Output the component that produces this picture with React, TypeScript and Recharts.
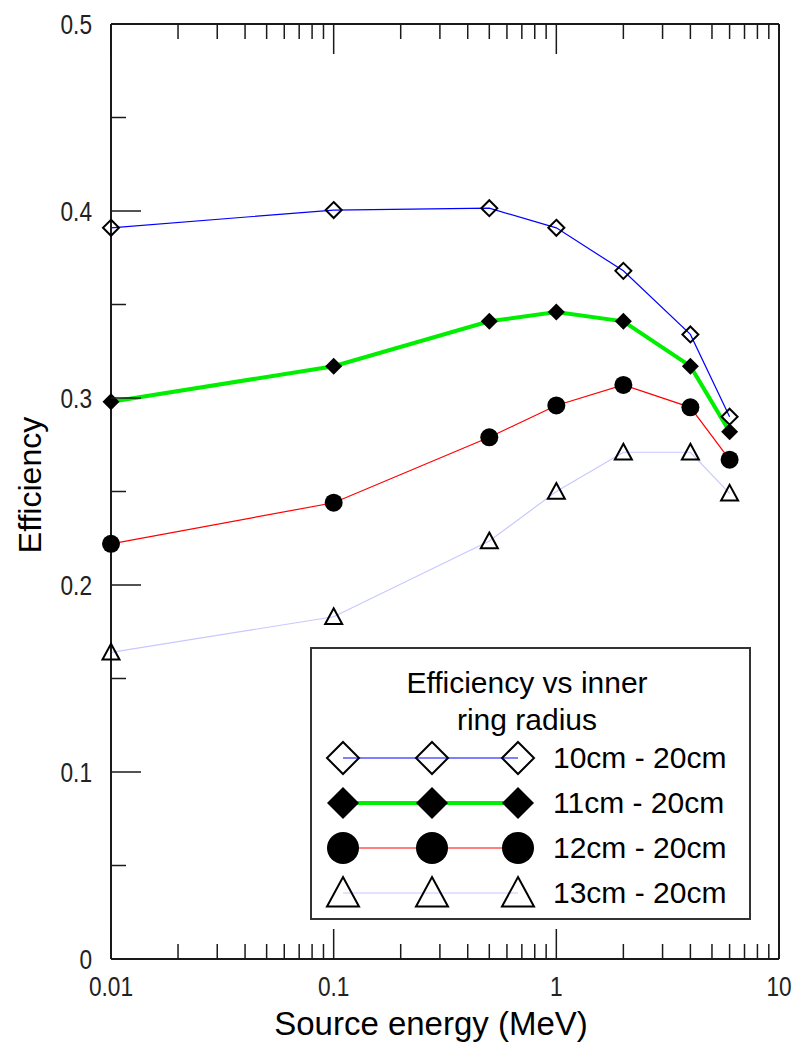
import { LineChart, Line, XAxis, YAxis, Legend } from "recharts";

// Detector efficiency for four inner-ring radii (outer ring fixed at 20 cm)
const ENERGY_MEV = [0.01, 0.1, 0.5, 1, 2, 4, 6];
const EFF_10CM = [0.391, 0.4005, 0.4015, 0.391, 0.368, 0.334, 0.29];
const EFF_11CM = [0.298, 0.317, 0.341, 0.346, 0.341, 0.317, 0.282];
const EFF_12CM = [0.222, 0.244, 0.279, 0.296, 0.307, 0.295, 0.267];
const EFF_13CM = [0.164, 0.183, 0.2235, 0.25, 0.271, 0.271, 0.249];
const SERIES_NAMES = ["10cm - 20cm", "11cm - 20cm", "12cm - 20cm", "13cm - 20cm"];
const LEGEND_TITLE = ["Efficiency vs inner", "ring radius"];

const X_TICKS = [
  0.01, 0.02, 0.03, 0.04, 0.05, 0.06, 0.07, 0.08, 0.09,
  0.1, 0.2, 0.3, 0.4, 0.5, 0.6, 0.7, 0.8, 0.9,
  1, 2, 3, 4, 5, 6, 7, 8, 9, 10,
];
const Y_TICKS = [0, 0.05, 0.1, 0.15, 0.2, 0.25, 0.3, 0.35, 0.4, 0.45, 0.5];

const data = ENERGY_MEV.map((e, i) => ({
  energy: e,
  r10: EFF_10CM[i],
  r11: EFF_11CM[i],
  r12: EFF_12CM[i],
  r13: EFF_13CM[i],
}));

const AXIS = "#1a1a1a";
const TEXT_FONT = "'Liberation Sans', Arial, sans-serif";
const MAJOR = 30;
const MINOR = 15;
const NARROW = 0.84; // horizontal squeeze for tick numbers

const isDecade = (v: number) => Math.abs(Math.log10(v) - Math.round(Math.log10(v))) < 1e-9;
const isTenth = (v: number) => Math.abs(v * 10 - Math.round(v * 10)) < 1e-9;

// condensed number label, anchored at (x, y)
const TickText = ({ x, y, anchor, children }: any) => (
  <text
    transform={`translate(${x} ${y}) scale(${NARROW} 1)`}
    textAnchor={anchor}
    fontFamily={TEXT_FONT}
    fontSize={27}
    fill="#222"
  >
    {children}
  </text>
);

// ---- marker shapes ----
type Mk = { cx: number; cy: number; s: number };
const OpenDiamond = ({ cx, cy, s }: Mk) => (
  <path d={`M${cx},${cy - s}L${cx + s},${cy}L${cx},${cy + s}L${cx - s},${cy}Z`} fill="none" stroke="#000" strokeWidth={2} />
);
const FilledDiamond = ({ cx, cy, s }: Mk) => (
  <path d={`M${cx},${cy - s}L${cx + s},${cy}L${cx},${cy + s}L${cx - s},${cy}Z`} fill="#000" />
);
const FilledCircle = ({ cx, cy, s }: Mk) => <circle cx={cx} cy={cy} r={s} fill="#000" />;
const OpenTriangle = ({ cx, cy, s }: Mk) => (
  <path
    d={`M${cx},${cy - s}L${cx + s},${cy + s * 0.85}L${cx - s},${cy + s * 0.85}Z`}
    fill="none"
    stroke="#000"
    strokeWidth={2}
  />
);

const SERIES = [
  { key: "r10", color: "#0000ff", width: 1.2, Marker: OpenDiamond, size: 8 },
  { key: "r11", color: "#00ee00", width: 4, Marker: FilledDiamond, size: 8.5 },
  { key: "r12", color: "#ff0000", width: 1.2, Marker: FilledCircle, size: 9 },
  { key: "r13", color: "#c8c8ff", width: 1.2, Marker: OpenTriangle, size: 8.5 },
];

// ---- axis ticks (drawn inward, labels only on major ticks) ----
const BottomTick = ({ x, y, payload }: any) => {
  const major = isDecade(payload.value);
  return (
    <g>
      <line x1={x} x2={x} y1={y} y2={y - (major ? MAJOR : MINOR)} stroke={AXIS} strokeWidth={1.5} />
      {major && (
        <TickText x={x} y={y + 37} anchor="middle">
          {String(payload.value)}
        </TickText>
      )}
    </g>
  );
};
const TopTick = ({ x, y, payload }: any) => (
  <line x1={x} x2={x} y1={y} y2={y + (isDecade(payload.value) ? MAJOR : MINOR)} stroke={AXIS} strokeWidth={1.5} />
);
const LeftTick = ({ x, y, payload }: any) => {
  const major = isTenth(payload.value);
  return (
    <g>
      <line x1={x} x2={x + (major ? MAJOR : MINOR)} y1={y} y2={y} stroke={AXIS} strokeWidth={1.5} />
      {major && (
        <TickText x={x - 19} y={y + 10} anchor="end">
          {String(payload.value)}
        </TickText>
      )}
    </g>
  );
};
const RightTick = ({ x, y, payload }: any) => (
  <line x1={x} x2={x - (isTenth(payload.value) ? MAJOR : MINOR)} y1={y} y2={y} stroke={AXIS} strokeWidth={1.5} />
);

// ---- boxed legend with three markers per row ----
const LegendBox = () => {
  const xs = [33, 122, 208];
  const rows = [111, 156, 201, 246];
  return (
    <div style={{ width: 441, height: 273, border: "2px solid #333", background: "#fff", boxSizing: "border-box" }}>
      <svg width={437} height={269} style={{ display: "block", marginLeft: -2, marginTop: -2, overflow: "visible" }}>
        {LEGEND_TITLE.map((t, i) => (
          <text key={t} x={217} y={46 + i * 37} textAnchor="middle" fontFamily={TEXT_FONT} fontSize={30} fill="#000">
            {t}
          </text>
        ))}
        {SERIES.map((s, i) => (
          <g key={s.key}>
            <line x1={xs[0]} x2={xs[2]} y1={rows[i]} y2={rows[i]} stroke={s.color} strokeWidth={s.width} />
            {xs.map((x) => (
              <s.Marker key={x} cx={x} cy={rows[i]} s={16} />
            ))}
            <text x={243} y={rows[i] + 10} fontFamily={TEXT_FONT} fontSize={30} fill="#000">
              {SERIES_NAMES[i]}
            </text>
          </g>
        ))}
      </svg>
    </div>
  );
};

export default function App() {
  return (
    <div style={{ position: "absolute", left: 0, top: 0, width: 794, height: 1044, background: "#fff" }}>
      <LineChart
        width={794}
        height={1044}
        data={data}
        margin={{ top: 14, right: 5, bottom: 25, left: 31 }}
        style={{ fontFamily: TEXT_FONT }}
      >
        <XAxis
          xAxisId="bottom"
          dataKey="energy"
          type="number"
          scale="log"
          domain={[0.01, 10]}
          ticks={X_TICKS}
          interval={0}
          height={60}
          tickSize={0}
          tickMargin={0}
          tickLine={false}
          axisLine={{ stroke: AXIS, strokeWidth: 2 }}
          tick={BottomTick}
          label={() => (
            <text x={431} y={1035} textAnchor="middle" fontFamily={TEXT_FONT} fontSize={33} fill="#000">
              Source energy (MeV)
            </text>
          )}
        />
        <XAxis
          xAxisId="top"
          orientation="top"
          dataKey="energy"
          type="number"
          scale="log"
          domain={[0.01, 10]}
          ticks={X_TICKS}
          interval={0}
          height={10}
          tickSize={0}
          tickMargin={0}
          tickLine={false}
          axisLine={{ stroke: AXIS, strokeWidth: 2 }}
          tick={TopTick}
        />
        <YAxis
          yAxisId="left"
          type="number"
          domain={[0, 0.5]}
          ticks={Y_TICKS}
          interval={0}
          width={80}
          tickSize={0}
          tickMargin={0}
          tickLine={false}
          axisLine={{ stroke: AXIS, strokeWidth: 2 }}
          tick={LeftTick}
          label={() => (
            <text
              x={30}
              y={485}
              transform="rotate(-90 30 485)"
              textAnchor="middle"
              dominantBaseline="central"
              fontFamily={TEXT_FONT}
              fontSize={32}
              fill="#000"
            >
              Efficiency
            </text>
          )}
        />
        <YAxis
          yAxisId="right"
          orientation="right"
          type="number"
          domain={[0, 0.5]}
          ticks={Y_TICKS}
          interval={0}
          width={10}
          tickSize={0}
          tickMargin={0}
          tickLine={false}
          axisLine={{ stroke: AXIS, strokeWidth: 2 }}
          tick={RightTick}
        />
        {SERIES.map((s, i) => (
          <Line
            key={s.key}
            xAxisId="bottom"
            yAxisId="left"
            type="linear"
            dataKey={s.key}
            name={SERIES_NAMES[i]}
            stroke={s.color}
            strokeWidth={s.width}
            isAnimationActive={false}
            dot={(p: any) => <s.Marker key={`${s.key}-${p.index}`} cx={p.cx} cy={p.cy} s={s.size} />}
            activeDot={false}
          />
        ))}
        <Legend
          layout="horizontal"
          verticalAlign="middle"
          align="center"
          content={LegendBox}
          wrapperStyle={{ left: 310, top: 647, width: 441, height: 273 }}
        />
      </LineChart>
    </div>
  );
}
